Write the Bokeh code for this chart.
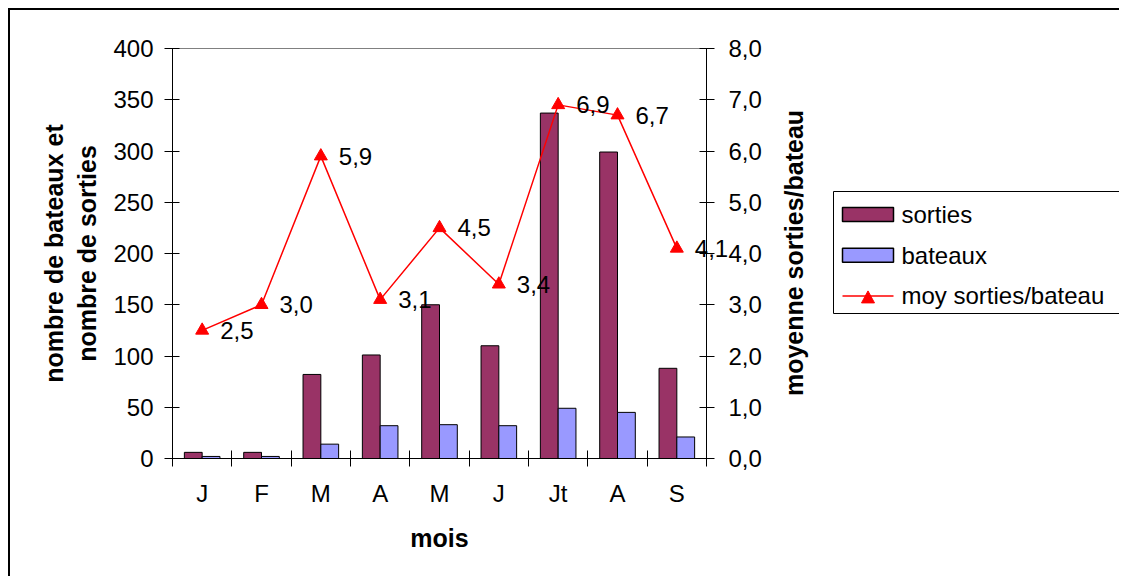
import math
from bokeh.plotting import figure
from bokeh.models import Range1d, LinearAxis, FixedTicker, ColumnDataSource
from bokeh.transform import dodge
from bokeh.core.properties import value
from bokeh.embed import file_html
from bokeh.resources import INLINE

# Monthly data: boat outings, active boats, mean outings per boat
months = ["J", "F", "M", "A", "M", "J", "Jt", "A", "S"]
sorties = [6, 6, 82, 101, 150, 110, 337, 299, 88]
bateaux = [2, 2, 14, 32, 33, 32, 49, 45, 21]
moy = [2.5, 3.0, 5.9, 3.1, 4.5, 3.4, 6.9, 6.7, 4.1]
left_ticks = [0, 50, 100, 150, 200, 250, 300, 350, 400]
right_ticks = [0, 1, 2, 3, 4, 5, 6, 7, 8]
legend_labels = ["sorties", "bateaux", "moy sorties/bateau"]

FONT = "Liberation Sans"
FS = "24px"
FS_TITLE = "25px"
C_SORTIES = "#993366"
C_BATEAUX = "#9999FF"
C_MOY = "#FF0000"

# canvas and frame geometry (pixels)
W, H = 1111, 568
B_LEFT, B_RIGHT, B_TOP, B_BOTTOM = 162, 415, 38, 120
FRAME_W = W - B_LEFT - B_RIGHT
FRAME_H = H - B_TOP - B_BOTTOM

centers = [i + 0.5 for i in range(len(months))]
labels = [f"{v:.1f}".replace(".", ",") for v in moy]

src = ColumnDataSource(dict(x=centers, sorties=sorties, bateaux=bateaux,
                            moy=moy, lab=labels))

p = figure(width=W, height=H, x_range=Range1d(0, len(months)),
           y_range=Range1d(0, 400), output_backend="svg", toolbar_location=None,
           min_border_left=B_LEFT, min_border_right=B_RIGHT,
           min_border_top=B_TOP, min_border_bottom=B_BOTTOM)
p.styles = {"border-top": "2px solid #000", "border-left": "2px solid #000",
            "margin-left": "8px", "margin-top": "8px"}
p.background_fill_color = "white"
p.border_fill_color = "white"
p.outline_line_color = "#808080"
p.xgrid.visible = False
p.ygrid.visible = False

# pixel coordinate system anchored on the frame, for the legend and side title
p.extra_x_ranges = {"px": Range1d(0, FRAME_W)}
p.extra_y_ranges = {"moy": Range1d(0, 8), "px": Range1d(0, FRAME_H)}

# left axis
ya = p.yaxis[0]
ya.ticker = FixedTicker(ticks=left_ticks)
ya.major_tick_in = 7
ya.major_tick_out = 8
ya.minor_tick_line_color = None
ya.major_label_standoff = 11
ya.axis_label = "nombre de bateaux et\nnombre de sorties"
ya.axis_label_standoff = 9

# bottom axis: labels at category centres, tick marks between categories
xa = p.xaxis[0]
xa.ticker = FixedTicker(ticks=centers, minor_ticks=list(range(len(months) + 1)))
xa.major_label_overrides = {c: m for c, m in zip(centers, months)}
xa.major_tick_in = 0
xa.major_tick_out = 0
xa.minor_tick_in = 8
xa.minor_tick_out = 8
xa.major_label_standoff = 13
xa.axis_label = "mois"
xa.axis_label_standoff = 14

# right axis
yr = LinearAxis(y_range_name="moy", ticker=FixedTicker(ticks=right_ticks))
yr.major_label_overrides = {t: f"{t:.1f}".replace(".", ",") for t in right_ticks}
yr.major_tick_in = 7
yr.major_tick_out = 8
yr.minor_tick_line_color = None
yr.major_label_standoff = 14
p.add_layout(yr, "right")

for ax in (ya, xa, yr):
    ax.axis_line_color = "black"
    ax.major_tick_line_color = "black"
    ax.major_label_text_font = FONT
    ax.major_label_text_font_size = FS
    ax.major_label_text_color = "black"
    ax.axis_label_text_font = FONT
    ax.axis_label_text_font_size = FS_TITLE
    ax.axis_label_text_font_style = "bold"
    ax.axis_label_text_color = "black"
xa.minor_tick_line_color = "black"

p.vbar(x=dodge("x", -0.15), top="sorties", width=0.3, source=src,
       fill_color=C_SORTIES, line_color="black", line_width=1)
p.vbar(x=dodge("x", 0.15), top="bateaux", width=0.3, source=src,
       fill_color=C_BATEAUX, line_color="black", line_width=1)
p.line("x", "moy", source=src, y_range_name="moy", line_color=C_MOY, line_width=1.5)
p.scatter("x", "moy", source=src, y_range_name="moy", marker="triangle",
          size=13, fill_color=C_MOY, line_color=C_MOY)

# value labels beside each point (overlay level, so they may run past the frame)
p.text("x", "moy", text="lab", source=src, y_range_name="moy", x_offset=18,
       text_baseline="middle", text_font=value(FONT), text_font_size=FS,
       text_color="black", level="overlay")

# title of the right-hand axis, reading bottom to top
p.text(x=[FRAME_W + 87], y=[FRAME_H / 2 + 0.5], text=["moyenne sorties/bateau"],
       angle=math.pi / 2, x_range_name="px", y_range_name="px",
       text_align="center", text_baseline="middle",
       text_font=value(FONT), text_font_size=FS_TITLE, text_font_style="bold",
       text_color="black", level="overlay")

# legend box to the right of the chart
LX0, LX1, LY0, LY1 = 661, 952, 145, 267
ROW0, ROW_STEP = 244, 40.7
SW0, SW1, SW_H = 670, 721, 14
rows = [ROW0 - i * ROW_STEP for i in range(len(legend_labels))]
leg = dict(x_range_name="px", y_range_name="px", level="overlay")
cx = (SW0 + SW1) / 2

p.quad(left=[LX0], right=[LX1], bottom=[LY0], top=[LY1], fill_color="white",
       line_color="black", line_width=1, **leg)
p.quad(left=[SW0, SW0], right=[SW1, SW1],
       bottom=[r - SW_H / 2 for r in rows[:2]], top=[r + SW_H / 2 for r in rows[:2]],
       fill_color=[C_SORTIES, C_BATEAUX], line_color="black", line_width=1.5, **leg)
p.line(x=[SW0, SW1], y=[rows[2], rows[2]], line_color=C_MOY, line_width=1.5, **leg)
p.patch(x=[cx - 6.5, cx + 6.5, cx], y=[rows[2] - 7, rows[2] - 7, rows[2] + 5],
        fill_color=C_MOY, line_color=C_MOY, **leg)
p.text(x=[SW1 + 8] * len(legend_labels), y=rows, text=legend_labels,
       text_baseline="middle", text_font=value(FONT), text_font_size=FS,
       text_color="black", **leg)

open("out.html", "w").write(file_html(p, INLINE))
